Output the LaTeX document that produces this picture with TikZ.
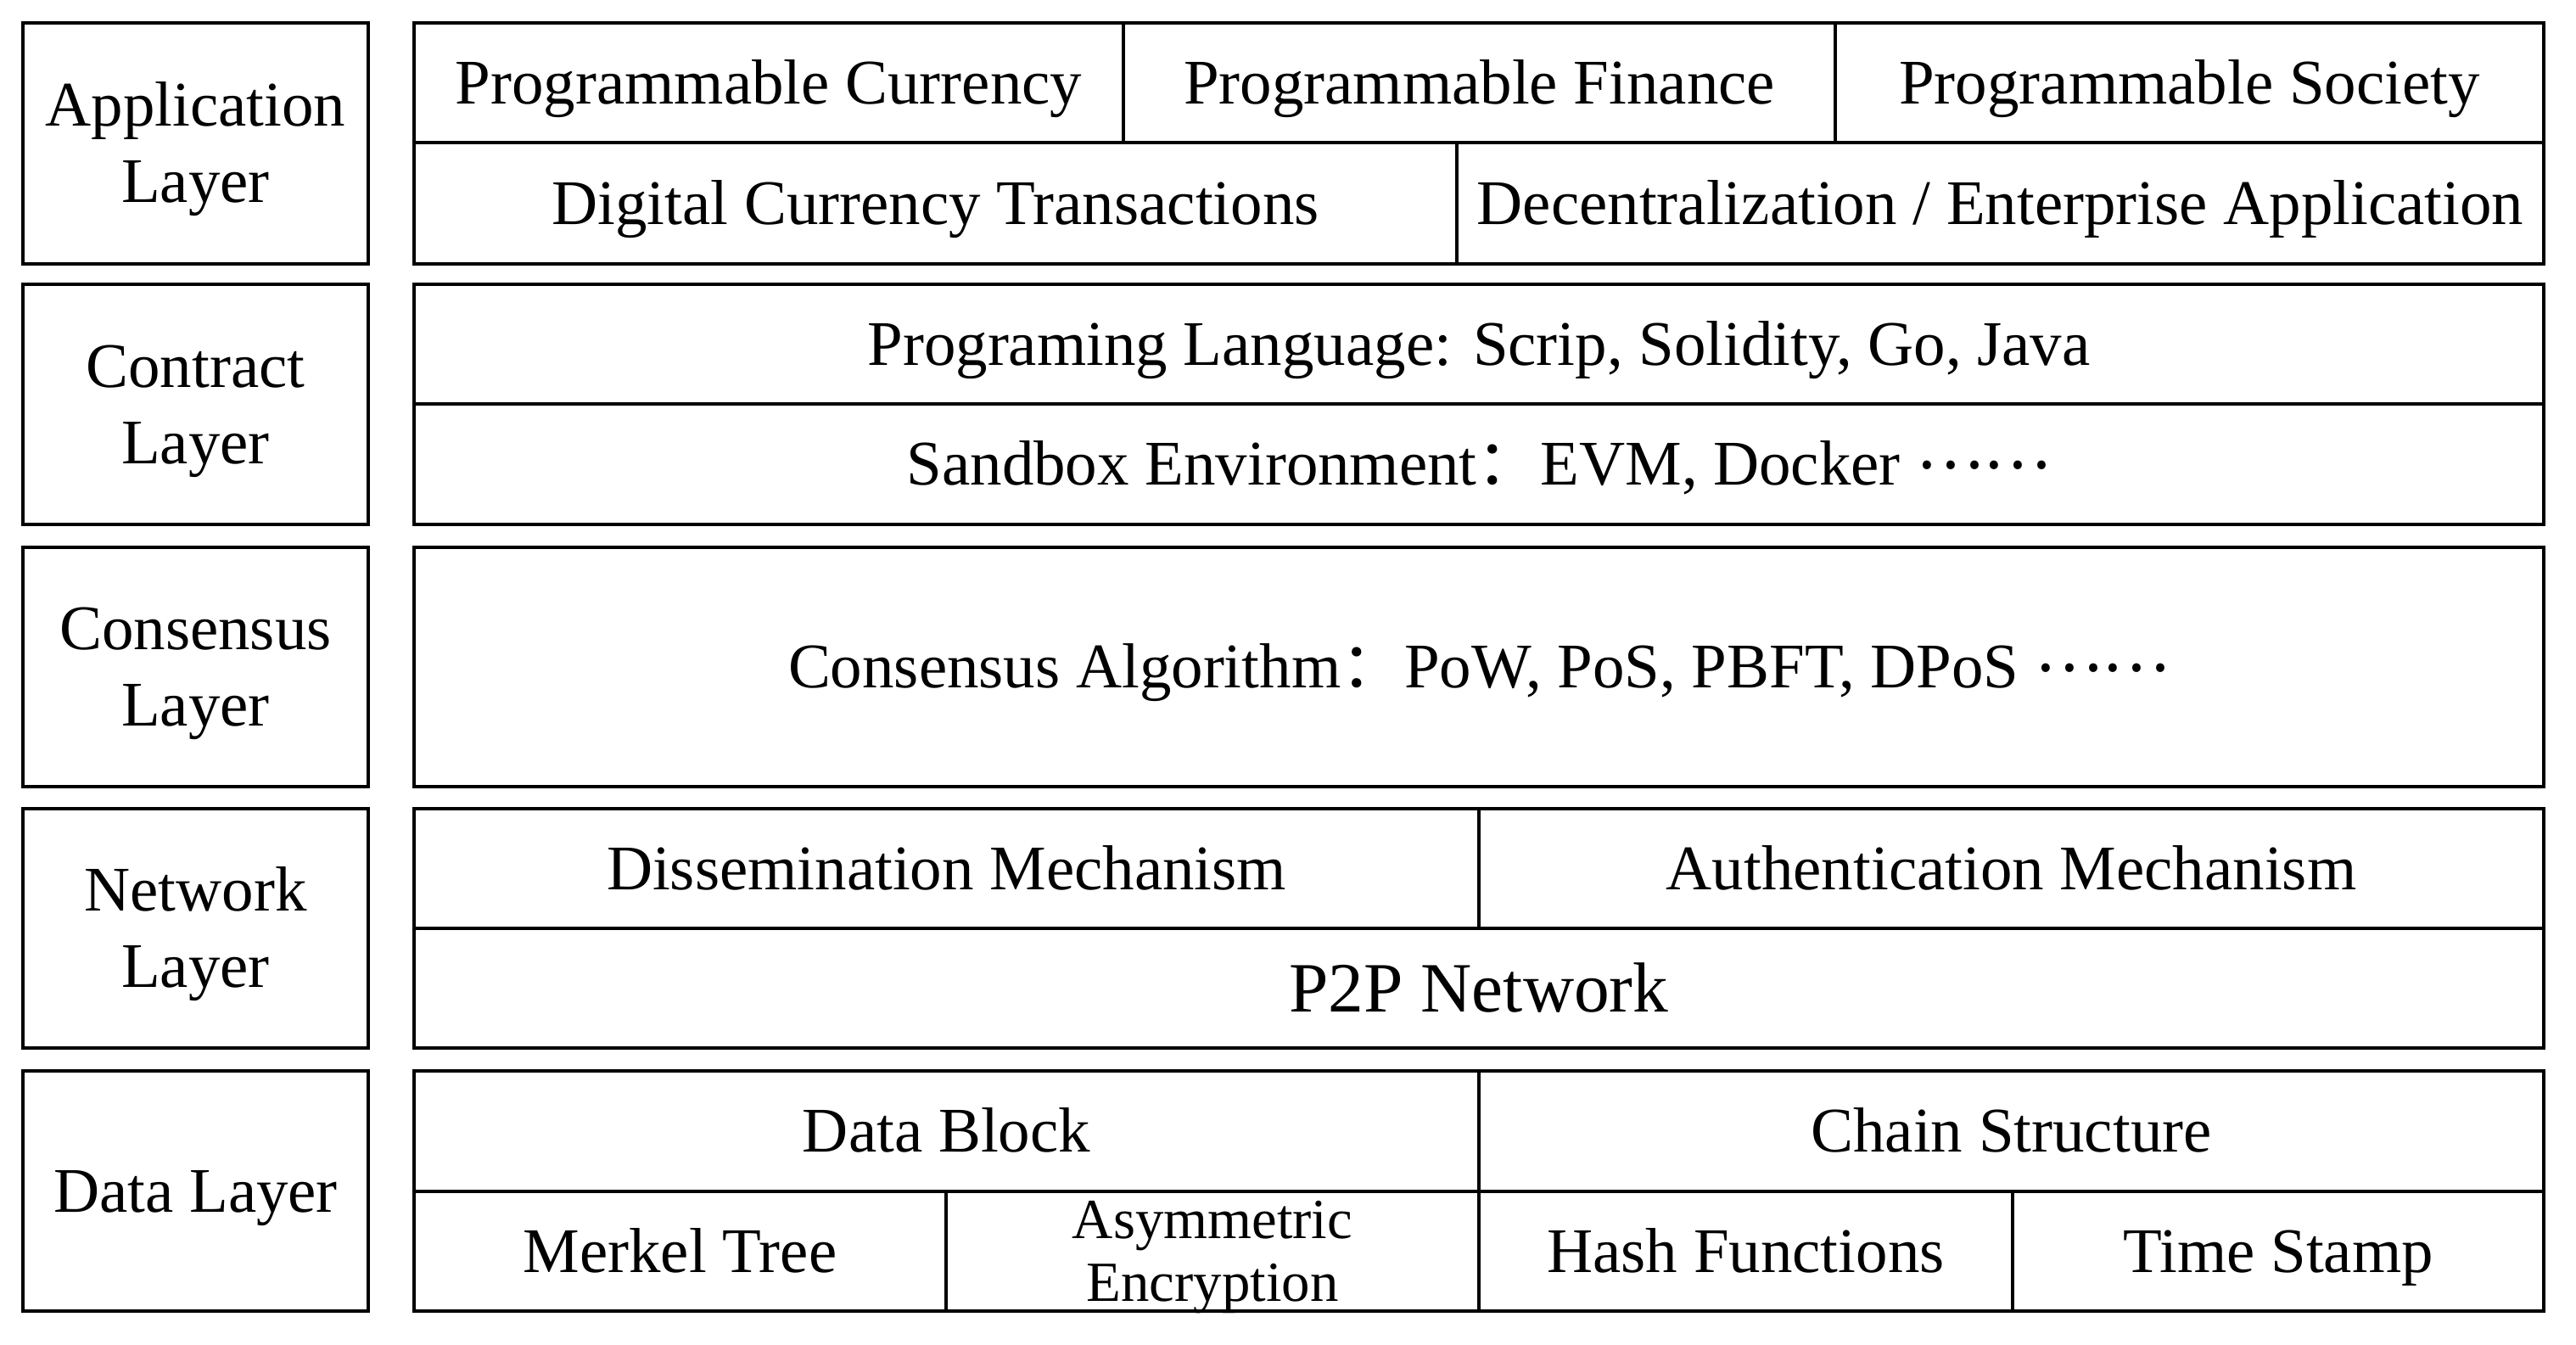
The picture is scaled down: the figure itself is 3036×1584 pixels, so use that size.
\documentclass[tikz,border=0pt]{standalone}
\usepackage{fontspec}
\setmainfont{Liberation Serif}
\newfontfamily\cjk{Noto Sans CJK SC}
\newcommand\mkcell[7][]{\node[cell,minimum width={(#5-#3)*0.01cm},minimum height={(#6-#4)*0.01cm},#1] (#2) at ({(#3+#5)/2},{(#4+#6)/2}) {#7};}
\newcommand\mydots{\raisebox{0.26em}{\cjk ……}}
\begin{document}
\begin{tikzpicture}[x=0.01cm,y=-0.01cm,
  cell/.style={draw, line width=1.1pt, rectangle, inner sep=0pt, outer sep=0pt,
    font=\fontsize{21.3}{25.6}\selectfont, text height=14.1pt, text depth=0pt},
  twoline/.style={align=center, text height=39.7pt, text depth=0pt},
  big/.style={font=\fontsize{23.7}{28}\selectfont, text height=15.7pt},
  small/.style={align=center, font=\fontsize{19}{21}\selectfont, text height=33.6pt, text depth=0pt}]
\fill[white] (0,0) rectangle (3036,1584);
\useasboundingbox (0,0) rectangle (3036,1584);
% left column
\mkcell[twoline]{appL}{27}{27}{434}{311}{Application\\Layer}
\mkcell[twoline]{conL}{27}{335}{434}{618}{Contract\\Layer}
\mkcell[twoline]{csL}{27}{645}{434}{927}{Consensus\\Layer}
\mkcell[twoline]{netL}{27}{953}{434}{1235}{Network\\Layer}
\mkcell{datL}{27}{1262}{434}{1545}{Data Layer}
% application layer
\mkcell{pc}{488}{27}{1324}{168}{Programmable Currency}
\mkcell{pf}{1324}{27}{2163}{168}{Programmable Finance}
\mkcell{ps}{2163}{27}{2998}{168}{Programmable Society}
\mkcell{dct}{488}{168}{1717}{311}{Digital Currency Transactions}
\mkcell{dea}{1717}{168}{2998}{311}{Decentralization / Enterprise Application}
% contract layer
\mkcell{lang}{488}{335}{2998}{476}{Programing Language: Scrip, Solidity, Go, Java}
\mkcell{sand}{488}{476}{2998}{618}{Sandbox Environment{\cjk ：}EVM, Docker \mydots}
% consensus layer
\mkcell{alg}{488}{645}{2998}{927}{Consensus Algorithm{\cjk ：}PoW, PoS, PBFT, DPoS \mydots}
% network layer
\mkcell{dis}{488}{953}{1743}{1094}{Dissemination Mechanism}
\mkcell{auth}{1743}{953}{2998}{1094}{Authentication Mechanism}
\mkcell[big]{p2p}{488}{1094}{2998}{1235}{P2P Network}
% data layer
\mkcell{blk}{488}{1262}{1743}{1404}{Data Block}
\mkcell{chn}{1743}{1262}{2998}{1404}{Chain Structure}
\mkcell{mt}{488}{1404}{1115}{1545}{Merkel Tree}
\mkcell[small]{ae}{1115}{1404}{1743}{1545}{Asymmetric\\Encryption}
\mkcell{hf}{1743}{1404}{2372}{1545}{Hash Functions}
\mkcell{ts}{2372}{1404}{2998}{1545}{Time Stamp}
\end{tikzpicture}
\end{document}
